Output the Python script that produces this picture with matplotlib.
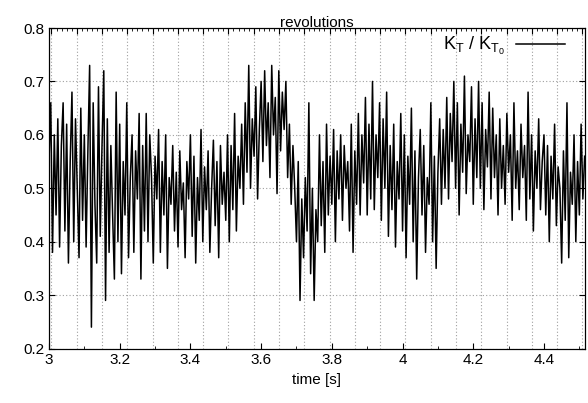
import matplotlib
matplotlib.use('Agg')
import matplotlib.pyplot as plt
import numpy as np
from matplotlib.ticker import MultipleLocator, AutoMinorLocator, FormatStrFormatter

plt.rcParams['font.family'] = ['Liberation Sans', 'DejaVu Sans']

t_start = 3.0
t_step = 0.005
kt_ratio = [
    0.55, 0.66, 0.38, 0.60, 0.45, 0.63, 0.39, 0.58, 0.66, 0.42,
    0.62, 0.36, 0.55, 0.68, 0.40, 0.63, 0.50, 0.37, 0.65, 0.44,
    0.60, 0.39, 0.57, 0.73, 0.24, 0.66, 0.47, 0.36, 0.69, 0.41,
    0.58, 0.72, 0.29, 0.63, 0.38, 0.58, 0.45, 0.33, 0.68, 0.40,
    0.62, 0.34, 0.55, 0.45, 0.66, 0.37, 0.52, 0.60, 0.38, 0.57,
    0.48, 0.64, 0.33, 0.58, 0.42, 0.64, 0.40, 0.60, 0.52, 0.36,
    0.56, 0.48, 0.61, 0.38, 0.55, 0.45, 0.60, 0.35, 0.52, 0.47,
    0.58, 0.42, 0.53, 0.39, 0.57, 0.46, 0.51, 0.37, 0.55, 0.48,
    0.60, 0.41, 0.56, 0.36, 0.52, 0.44, 0.61, 0.40, 0.54, 0.46,
    0.57, 0.38, 0.50, 0.59, 0.43, 0.55, 0.37, 0.58, 0.47, 0.53,
    0.44, 0.60, 0.40, 0.58, 0.46, 0.64, 0.42, 0.56, 0.50, 0.62,
    0.47, 0.66, 0.53, 0.73, 0.50, 0.63, 0.56, 0.69, 0.48, 0.61,
    0.70, 0.55, 0.72, 0.58, 0.66, 0.52, 0.73, 0.60, 0.67, 0.49,
    0.72, 0.57, 0.68, 0.61, 0.70, 0.52, 0.62, 0.47, 0.58, 0.50,
    0.40, 0.55, 0.29, 0.48, 0.37, 0.52, 0.42, 0.66, 0.34, 0.50,
    0.29, 0.46, 0.40, 0.60, 0.43, 0.55, 0.38, 0.62, 0.45, 0.56,
    0.47, 0.61, 0.40, 0.57, 0.48, 0.60, 0.44, 0.58, 0.50, 0.55,
    0.42, 0.62, 0.38, 0.57, 0.47, 0.64, 0.45, 0.60, 0.51, 0.67,
    0.45, 0.62, 0.48, 0.70, 0.46, 0.60, 0.52, 0.66, 0.44, 0.63,
    0.50, 0.68, 0.41, 0.58, 0.46, 0.62, 0.39, 0.55, 0.48, 0.64,
    0.42, 0.60, 0.37, 0.56, 0.47, 0.65, 0.40, 0.57, 0.33, 0.52,
    0.61, 0.45, 0.58, 0.38, 0.52, 0.47, 0.66, 0.40, 0.56, 0.35,
    0.53, 0.63, 0.47, 0.61, 0.50, 0.67, 0.48, 0.64, 0.55, 0.70,
    0.50, 0.66, 0.45, 0.62, 0.53, 0.71, 0.49, 0.60, 0.55, 0.69,
    0.47, 0.63, 0.52, 0.70, 0.50, 0.66, 0.46, 0.61, 0.54, 0.68,
    0.48, 0.65, 0.52, 0.60, 0.45, 0.63, 0.50, 0.58, 0.47, 0.64,
    0.53, 0.60, 0.44, 0.66, 0.50, 0.57, 0.46, 0.62, 0.52, 0.58,
    0.44, 0.68, 0.48, 0.60, 0.42, 0.57, 0.50, 0.63, 0.46, 0.55,
    0.60, 0.45, 0.58, 0.40, 0.56, 0.48, 0.62, 0.43, 0.54, 0.50,
    0.36, 0.57, 0.44, 0.66, 0.37, 0.53, 0.47, 0.60, 0.40, 0.55,
    0.45, 0.62, 0.48, 0.56,
]
time = t_start + t_step * np.arange(len(kt_ratio))

# revolutions on the top axis
rev_start = 3.007
rev_period = 0.0715

x_min, x_max = 3.0, 4.516

fig = plt.figure(figsize=(5.88, 4.03), dpi=100)
ax = fig.add_axes([0.0833, 0.1352, 0.9116, 0.7953])
ax2 = ax.twiny()

grid_style = dict(color='#a0a0a0', linestyle=(0, (1, 2)), linewidth=0.8)

ax.plot(time, kt_ratio, color='black', linewidth=1.1,
        label=r'$\mathregular{K_T}$ / $\mathregular{K_{T_0}}$')
ax.set_xlim(x_min, x_max)
ax.set_ylim(0.2, 0.8)
ax.xaxis.set_major_locator(MultipleLocator(0.2))
ax.xaxis.set_minor_locator(MultipleLocator(0.1))
ax.xaxis.set_major_formatter(FormatStrFormatter('%g'))
ax.yaxis.set_major_locator(MultipleLocator(0.1))
ax.yaxis.set_major_formatter(FormatStrFormatter('%g'))
ax.tick_params(which='both', direction='in', top=False, right=True, labelsize=11)
ax.tick_params(which='major', length=4)
ax.tick_params(which='minor', length=2.5)
ax.set_xlabel('time [s]', fontsize=11)
ax.yaxis.grid(True, **grid_style)

ax2.set_xlim((x_min - rev_start) / rev_period, (x_max - rev_start) / rev_period)
ax2.xaxis.set_major_locator(MultipleLocator(1))
ax2.xaxis.set_minor_locator(AutoMinorLocator(5))
ax2.tick_params(which='both', direction='in', labeltop=False)
ax2.tick_params(which='major', length=4)
ax2.tick_params(which='minor', length=2.5)
ax2.xaxis.grid(True, **grid_style)
ax2.set_xlabel('revolutions', fontsize=11, labelpad=1)

ax.set_zorder(ax2.get_zorder() + 1)
ax.patch.set_visible(False)

leg = ax.legend(loc='upper right', bbox_to_anchor=(0.9757, 1.0), frameon=False,
                markerfirst=False, fontsize=13, handlelength=2.7,
                handletextpad=0.6, borderaxespad=0)

fig.savefig('out.png', dpi=100)
